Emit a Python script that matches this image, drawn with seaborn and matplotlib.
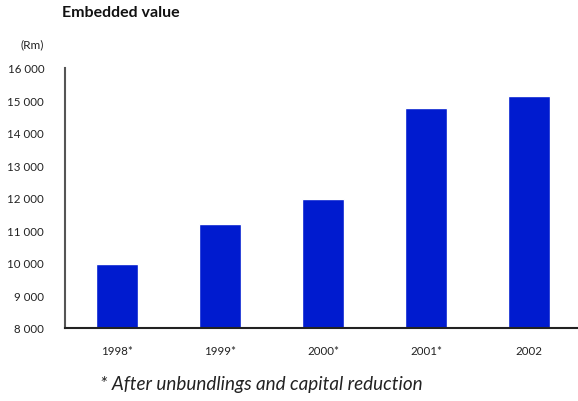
import matplotlib
matplotlib.use("Agg")
import matplotlib.pyplot as plt
import seaborn as sns
import pandas as pd

years = ["1998*", "1999*", "2000*", "2001*", "2002"]
embedded_value = [9980, 11200, 11970, 14770, 15140]
y_ticks = [8000, 9000, 10000, 11000, 12000, 13000, 14000, 15000, 16000]
y_tick_labels = ["8 000", "9 000", "10 000", "11 000", "12 000",
                 "13 000", "14 000", "15 000", "16 000"]

sns.set_theme(style="white")
plt.rcParams["font.family"] = ["Lato", "DejaVu Sans"]

df = pd.DataFrame({"year": years, "value": embedded_value})

fig = plt.figure(figsize=(5.78, 4.02), dpi=100)
ax = fig.add_axes([65 / 578, 1 - 329 / 402, 1 - 65 / 578, 260 / 402])

sns.barplot(data=df, x="year", y="value", color="#001BCF", saturation=1,
            width=0.41, ax=ax)

ax.set_ylim(8000, 16000)
ax.set_xlim(-0.505, 4.476)
ax.set_yticks(y_ticks)
ax.set_yticklabels(y_tick_labels, fontsize=8.3, color="#222222")
ax.set_xticks(range(len(years)))
ax.set_xticklabels(years, fontsize=8.3, color="#222222")
ax.tick_params(axis="y", length=0, pad=15)
ax.tick_params(axis="x", length=0, pad=12)
ax.set_xlabel("")
ax.set_ylabel("")

for side in ("top", "right"):
    ax.spines[side].set_visible(False)
ax.spines["left"].set_color("#555555")
ax.spines["left"].set_linewidth(1.5)
ax.spines["bottom"].set_color("#222222")
ax.spines["bottom"].set_linewidth(1.5)

fig.text(62 / 578, 1 - 13 / 402, "Embedded value", fontsize=11.5,
         fontweight="bold", color="#111111", va="center", ha="left")
fig.text(44 / 578, 1 - 45 / 402, "(Rm)", fontsize=8.5, color="#222222",
         va="center", ha="right")
fig.text(100 / 578, 1 - 385 / 402, "* After unbundlings and capital reduction",
         fontsize=13.6, style="italic", color="#222222", va="center", ha="left")

fig.savefig("out.png", dpi=100)
